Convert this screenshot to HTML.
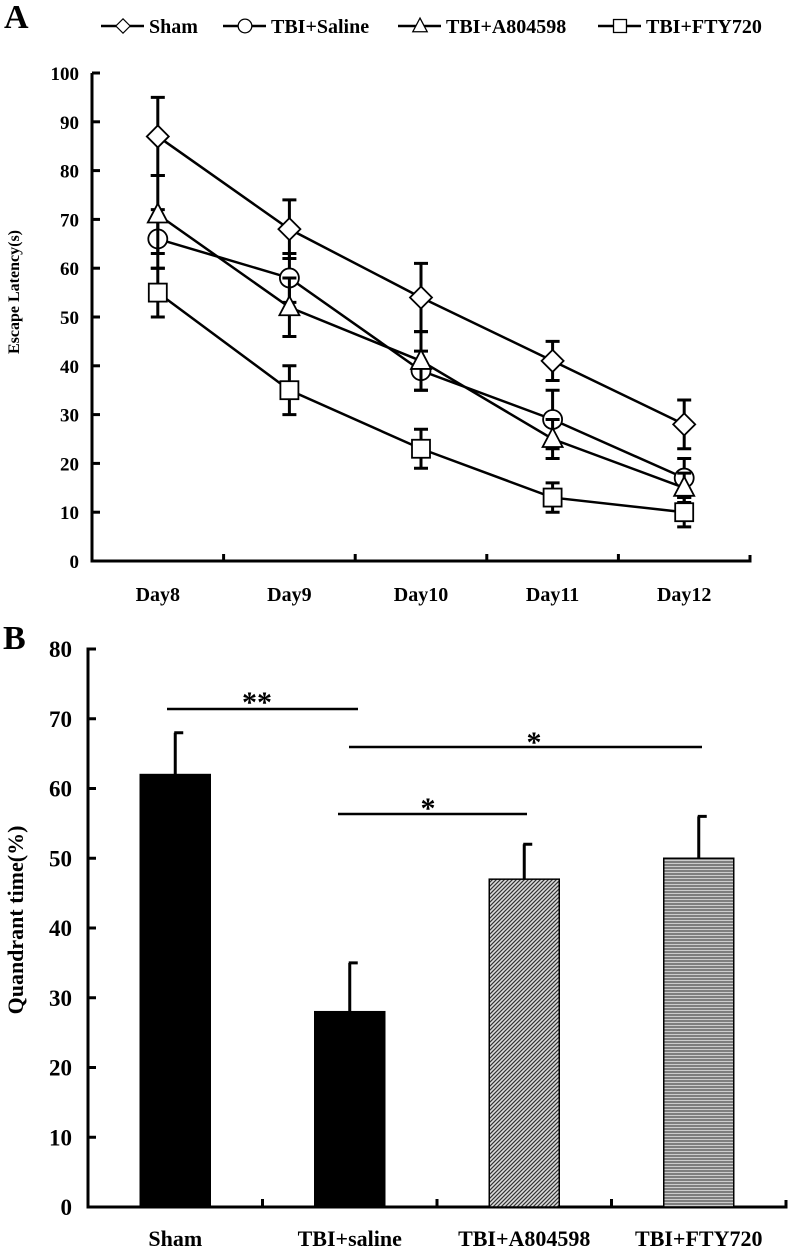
<!DOCTYPE html>
<html><head><meta charset="utf-8">
<style>
html,body{margin:0;padding:0;background:#fff;}
svg{display:block;font-family:"Liberation Serif",serif;font-weight:bold;}
</style></head>
<body>
<svg id="fig" width="788" height="1255" viewBox="0 0 788 1255">
<defs>
<pattern id="diag" patternUnits="userSpaceOnUse" width="4" height="4">
<rect width="4" height="4" fill="#ddd"/>
<path d="M-1,1 l2,-2 M0,4 l4,-4 M3,5 l2,-2" stroke="#333" stroke-width="1.2"/>
</pattern>
<pattern id="horiz" patternUnits="userSpaceOnUse" width="4" height="3">
<rect width="4" height="3" fill="#ccc"/>
<line x1="0" y1="1" x2="4" y2="1" stroke="#555" stroke-width="1.3"/>
</pattern>
</defs>
<text x="4" y="28" font-size="34">A</text>
<text x="3" y="649" font-size="34">B</text>
<g id="legend"></g>
<g id="chartA"></g>
<g id="chartB"></g>
</svg>
<script>
const days = ["Day8","Day9","Day10","Day11","Day12"];
const seriesNames = ["Sham","TBI+Saline","TBI+A804598","TBI+FTY720"];
const shamVals = [87,68,54,41,28];
const shamErr = [8,6,7,4,5];
const salineVals = [66,58,39,29,17];
const salineErr = [6,5,4,6,4];
const a804Vals = [71,52,41,25,15];
const a804Err = [8,6,6,4,3];
const ftyVals = [55,35,23,13,10];
const ftyErr = [5,5,4,3,3];
const yTicksA = [0,10,20,30,40,50,60,70,80,90,100];

const groups = ["Sham","TBI+saline","TBI+A804598","TBI+FTY720"];
const barVals = [62,28,47,50];
const barErr = [6,7,5,6];
const yTicksB = [0,10,20,30,40,50,60,70,80];

const NS="http://www.w3.org/2000/svg";
function mk(tag, attrs, parent){const e=document.createElementNS(NS,tag);for(const k in attrs)e.setAttribute(k,attrs[k]);parent.appendChild(e);return e;}

// ---- Chart A ----
const gA=document.getElementById('chartA');
const A={x0:92,x1:750,y0:561,yTop:73,max:100};
const yA=v=>A.y0-(v/A.max)*(A.y0-A.yTop);
const bw=(A.x1-A.x0)/days.length;
const xA=i=>A.x0+bw*(i+0.5);
let ax=mk('path',{d:`M${A.x0},${A.yTop} H${A.x0+8} M${A.x0},${A.yTop} V${A.y0} H${A.x1} V${A.y0-6}`,fill:'none',stroke:'#000','stroke-width':3},gA);


yTicksA.forEach(t=>{
 const l=mk('line',{x1:A.x0,x2:A.x0+8,y1:yA(t),y2:yA(t),stroke:'#000','stroke-width':3},gA);
 
 
 const tx=mk('text',{x:79,y:yA(t)+7,'font-size':19,'text-anchor':'end'},gA);tx.textContent=t;
 
 
});
for(let i=1;i<days.length;i++){
 const l=mk('line',{x1:A.x0+bw*i,x2:A.x0+bw*i,y1:A.y0,y2:A.y0-7,stroke:'#000','stroke-width':3},gA);
 
 
}
days.forEach((d,i)=>{
 const t=mk('text',{x:xA(i),y:601,'font-size':20,'text-anchor':'middle'},gA);t.textContent=d;
 
 
});
const ttlA=mk('text',{x:0,y:0,'font-size':16,'text-anchor':'middle',transform:'translate(19,292) rotate(-90)'},gA);
ttlA.textContent='Escape Latency(s)';



function marker(type,x,y,parent){
 let e;
 if(type==='diamond') e=mk('path',{d:`M${x},${y-11} L${x+11},${y} L${x},${y+11} L${x-11},${y} Z`},parent);
 else if(type==='circle') e=mk('circle',{cx:x,cy:y,r:9.5},parent);
 else if(type==='triangle') e=mk('path',{d:`M${x},${y-11} L${x+10},${y+8} L${x-10},${y+8} Z`},parent);
 else e=mk('rect',{x:x-9,y:y-9,width:18,height:18},parent);
 e.setAttribute('fill','#fff');e.setAttribute('stroke','#000');e.setAttribute('stroke-width',1.8);
 return e;
}
const series=[[shamVals,shamErr,'diamond'],[salineVals,salineErr,'circle'],[a804Vals,a804Err,'triangle'],[ftyVals,ftyErr,'square']];
series.forEach((s,si)=>{
 const g=mk('g',{},gA);
 
 
 const [vals,errs,type]=s;
 vals.forEach((v,i)=>{
  const x=xA(i);
  const eb=mk('path',{d:`M${x},${yA(v+errs[i])} V${yA(v-errs[i])} M${x-7},${yA(v+errs[i])} H${x+7} M${x-7},${yA(v-errs[i])} H${x+7}`,stroke:'#000','stroke-width':3,fill:'none'},g);
  
  
 });
 const ln=mk('polyline',{points:vals.map((v,i)=>xA(i)+','+yA(v)).join(' '),fill:'none',stroke:'#000','stroke-width':2.5},g);
 
 
 vals.forEach((v,i)=>{
  const m=marker(type,xA(i),yA(v),g);
  
  
 });
});

// legend
const lg=document.getElementById('legend');
const legX=[123,245,420,620];
const types=['diamond','circle','triangle','square'];
seriesNames.forEach((n,i)=>{
 const g=mk('g',{},lg);
 
 
 mk('line',{x1:legX[i]-22,x2:legX[i]+21,y1:26,y2:26,stroke:'#000','stroke-width':2.5},g);
 const m=marker(types[i],legX[i],26,g);
 if(types[i]==='diamond'){m.setAttribute('transform',`translate(${legX[i]},26) scale(0.65) translate(${-legX[i]},-26)`);}
 else m.setAttribute('transform',`translate(${legX[i]},26) scale(0.72) translate(${-legX[i]},-26)`);
 const t=mk('text',{x:legX[i]+26,y:33,'font-size':20},g);t.textContent=n;
});

// ---- Chart B ----
const gB=document.getElementById('chartB');
const B={x0:88,x1:786,y0:1207,yTop:649,max:80};
const yB=v=>B.y0-(v/B.max)*(B.y0-B.yTop);
const cw=(B.x1-B.x0)/groups.length;
const xB=i=>B.x0+cw*(i+0.5);
let axb=mk('path',{d:`M${B.x0+8},${B.yTop} H${B.x0} V${B.y0} H${B.x1} V${B.y0-7}`,fill:'none',stroke:'#000','stroke-width':3},gB);


yTicksB.forEach(t=>{
 const l=mk('line',{x1:B.x0,x2:B.x0+8,y1:yB(t),y2:yB(t),stroke:'#000','stroke-width':3},gB);
 
 
 const tx=mk('text',{x:72,y:yB(t)+8,'font-size':23,'text-anchor':'end'},gB);tx.textContent=t;
 
 
});
for(let i=1;i<groups.length;i++){
 const l=mk('line',{x1:B.x0+cw*i,x2:B.x0+cw*i,y1:B.y0,y2:B.y0-8,stroke:'#000','stroke-width':3},gB);
 
 
}
const fills=['#000','#000','url(#diag)','url(#horiz)'];
groups.forEach((gname,i)=>{
 const x=xB(i);
 const eb=mk('path',{d:`M${x},${yB(barVals[i])} V${yB(barVals[i]+barErr[i])} M${x-1},${yB(barVals[i]+barErr[i])} H${x+8}`,stroke:'#000','stroke-width':3,fill:'none'},gB);
 
 
 const r=mk('rect',{x:x-35,y:yB(barVals[i]),width:70,height:B.y0-yB(barVals[i]),fill:fills[i],stroke:'#000','stroke-width':1.5},gB);
 
 
 const t=mk('text',{x:x,y:1246,'font-size':22,'text-anchor':'middle'},gB);t.textContent=gname;
 
 
});
const ttlB=mk('text',{x:0,y:0,'font-size':22,'text-anchor':'middle',transform:'translate(23,920) rotate(-90)'},gB);
ttlB.textContent='Quandrant time(%)';



// significance
const sigs=[[167,358,709,'**',257,700],[349,702,747,'*',534,740],[338,527,814,'*',428,806]];
sigs.forEach(s=>{
 const g=mk('g',{},gB);
 
 
 mk('line',{x1:s[0],x2:s[1],y1:s[2],y2:s[2],stroke:'#000','stroke-width':2.5},g);
 const t=mk('text',{x:s[4],y:s[5]+12,'font-size':30,'text-anchor':'middle'},g);t.textContent=s[3];
});
</script>
</body></html>
